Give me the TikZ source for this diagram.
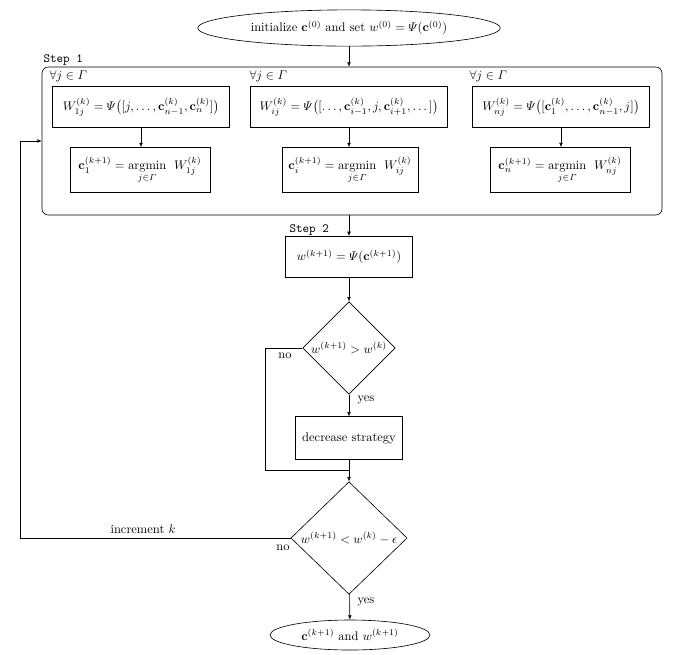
\documentclass[tikz,border=0pt]{standalone}
\usepackage{amsmath}
\usepackage{amssymb}
\usetikzlibrary{shapes.geometric,arrows.meta}

\begin{document}
\begin{tikzpicture}[x=0.8pt,y=-0.8pt,
  >={Latex[length=3.5pt,width=3pt]},
  box/.style={draw,rectangle,line width=0.5pt,minimum height=33pt,inner sep=2pt},
  term/.style={draw,ellipse,line width=0.5pt,inner sep=0pt},
  dia/.style={draw,diamond,line width=0.5pt,inner sep=0pt},
  steptag/.style={font=\ttfamily,inner sep=1pt,anchor=south west},
  flow/.style={->,line width=0.5pt}]
\useasboundingbox (0,0) rectangle (675,654);

% start
\node[term,minimum width=242pt,minimum height=29pt] (init) at (349,28)
  {initialize $\mathbf{c}^{(0)}$ and set $w^{(0)}=\varPsi(\mathbf{c}^{(0)})$};

% step 1
\node[draw,line width=0.5pt,rounded corners=5pt,minimum width=496pt,minimum height=118.4pt] (frame) at (352,141) {};
\node[steptag] (tag1) at (42,67) {Step 1};
\node[anchor=north west,inner sep=1pt] (all1) at (48,69) {$\forall j\in\varGamma$};
\node[anchor=north west,inner sep=1pt] (alli) at (248,69) {$\forall j\in\varGamma$};
\node[anchor=north west,inner sep=1pt] (alln) at (468,69) {$\forall j\in\varGamma$};

\node[box,minimum width=142pt] (W1) at (141,107)
  {$W_{1j}^{(k)}=\varPsi\big([j,\dots,\mathbf{c}_{n-1}^{(k)},\mathbf{c}_{n}^{(k)}]\big)$};
\node[box,minimum width=158pt] (Wi) at (349,107)
  {$W_{ij}^{(k)}=\varPsi\big([\dots,\mathbf{c}_{i-1}^{(k)},j,\mathbf{c}_{i+1}^{(k)},\dots]\big)$};
\node[box,minimum width=142pt] (Wn) at (561,107)
  {$W_{nj}^{(k)}=\varPsi\big([\mathbf{c}_{1}^{(k)},\dots,\mathbf{c}_{n-1}^{(k)},j]\big)$};

\node[box,minimum width=112pt,minimum height=36pt] (c1) at (140,170)
  {$\displaystyle\mathbf{c}_1^{(k+1)}=\operatorname*{argmin}_{j\in\varGamma}\;\,W_{1j}^{(k)}$};
\node[box,minimum width=109pt,minimum height=36pt] (ci) at (350,170)
  {$\displaystyle\mathbf{c}_i^{(k+1)}=\operatorname*{argmin}_{j\in\varGamma}\;\,W_{ij}^{(k)}$};
\node[box,minimum width=112pt,minimum height=36pt] (cn) at (560,170)
  {$\displaystyle\mathbf{c}_n^{(k+1)}=\operatorname*{argmin}_{j\in\varGamma}\;\,W_{nj}^{(k)}$};

\draw[flow] (W1) -- (W1 |- c1.north);
\draw[flow] (Wi) -- (Wi |- ci.north);
\draw[flow] (Wn) -- (Wn |- cn.north);

% step 2
\node[steptag] (tag2) at (288,237) {Step 2};
\node[box,minimum width=102pt] (wnew) at (349,257) {$w^{(k+1)}=\varPsi(\mathbf{c}^{(k+1)})$};

% tests
\node[dia,minimum width=74pt,minimum height=74pt] (dia1) at (349,348)
  {\makebox[0pt]{$w^{(k+1)}>w^{(k)}$}};
\node[box,minimum width=86pt,minimum height=34pt] (dec) at (349,438) {decrease strategy};
\node[dia,minimum width=93pt,minimum height=90pt] (dia2) at (349,538)
  {\makebox[0pt]{$w^{(k+1)}<w^{(k)}-\epsilon$}};

% end
\node[term,minimum width=128pt,minimum height=24pt] (fin) at (350,635)
  {$\mathbf{c}^{(k+1)}$ and $w^{(k+1)}$};

\coordinate (skip) at (265,470);
\coordinate (back) at (20,141);

\draw[flow] (init) -- (init |- frame.north);
\draw[flow] (wnew |- frame.south) -- (wnew);
\draw[flow] (wnew) -- (dia1);
\draw[flow] (dia1) -- (dec);
\draw[line width=0.5pt] (dia1.west) -| (skip) -- (dec.south |- skip);
\draw[flow] (dec) -- (dia2);
\draw[flow] (dia2) -- (fin);
\draw[flow] (dia2.west) -| (back) -- (frame.west);

% labels
\node (no1) at (285,356) {no};
\node (yes1) at (366,400) {yes};
\node (no2) at (283,548) {no};
\node (yes2) at (366,602) {yes};
\node (inc) at (143,529) {increment $k$};
\end{tikzpicture}
\end{document}
